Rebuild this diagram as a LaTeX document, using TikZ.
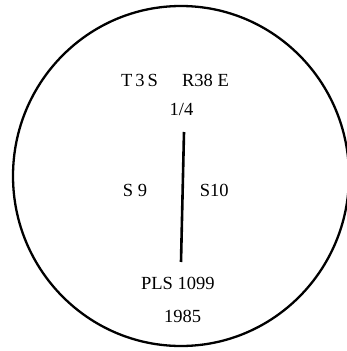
\documentclass[tikz,border=0pt]{standalone}
\usepackage{fontspec}
\setmainfont{Liberation Serif}
\usetikzlibrary{positioning}
\tikzset{
  lbl/.style={font=\fontsize{18.5}{21}\selectfont,inner sep=0pt,anchor=base},
  rim/.style={draw=black,line width=2.3pt},
  cut/.style={draw=black,line width=2.6pt}}

\begin{document}
\begin{tikzpicture}[x=1pt,y=-1pt]
  \useasboundingbox (0,0) rectangle (347,351);
  \draw[rim] (181,176) ellipse [x radius=168,y radius=170];
  \node[lbl] (twp) at (139.5,86) {T\hspace{3pt}3\hspace{3pt}S};
  \node[lbl] (rng) at (205.5,86) {R38 E};
  \node[lbl] (qtr) at (181.5,115.7) {1/4};
  \node[lbl] (sw) at (135,196) {S 9};
  \node[lbl] (se) at (214.3,196) {S10};
  \node[lbl] (pls) at (177.8,289.3) {PLS 1099};
  \node[lbl] (yr) at (182.5,322) {1985};
  \coordinate (ltop) at (184,132);
  \coordinate (lbot) at (181,262);
  \draw[cut] (ltop) -- (lbot);
\end{tikzpicture}
\end{document}
